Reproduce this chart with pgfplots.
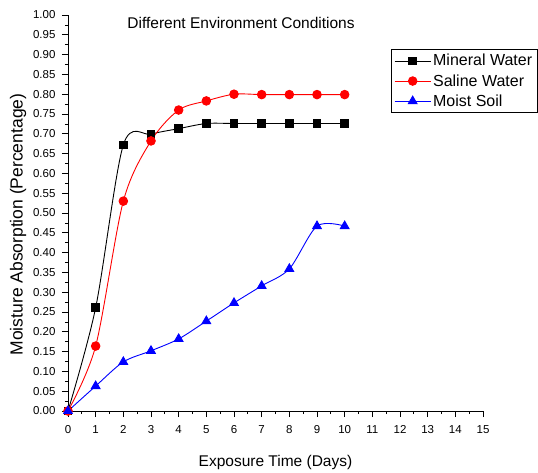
\documentclass[border=0pt]{standalone}
\usepackage{fontspec}
\setmainfont{Liberation Sans}
\usepackage{pgfplots}
\pgfplotsset{compat=1.18}
\begin{document}
\begin{tikzpicture}
\begin{axis}[
  scale only axis,
  width=415pt, height=396pt,
  xmin=0, xmax=15, ymin=0, ymax=1,
  axis x line*=bottom, axis y line*=left,
  axis line style={-, line width=0.9pt},
  xtick={0,1,...,15},
  ytick={0,0.05,...,1.0},
  minor x tick num=1, minor y tick num=1,
  tick align=outside,
  major tick length=6pt, minor tick length=3pt,
  tick style={black, line width=0.7pt},
  /pgf/number format/assume math mode=true,
  yticklabel style={/pgf/number format/fixed, /pgf/number format/fixed zerofill, /pgf/number format/precision=2, xshift=-3pt},
  xticklabel style={yshift=-5pt},
  ticklabel style={font=\fontsize{11.5}{13}\selectfont},
  xlabel={Exposure Time (Days)},
  ylabel={Moisture Absorption (Percentage)},
  xlabel style={font=\fontsize{15.5}{17}\selectfont, at={(axis description cs:0.5,0)}, anchor=base, yshift=-55pt},
  ylabel style={font=\fontsize{17.5}{19}\selectfont, at={(axis description cs:-0.1205,0.471)}, anchor=center, rotate=0},
  legend style={at={(rel axis cs:0.778,0.914)}, anchor=north west, draw=black, line width=0.7pt,
    font=\fontsize{16}{18}\selectfont, row sep=3pt, inner sep=3pt, cells={anchor=west}},
  legend image code/.code={\draw[mark repeat=2, mark phase=2, line width=0.9pt] plot coordinates {(0pt,0pt) (18pt,0pt) (36pt,0pt)};},
  clip=false,
]
\addplot[black, line width=0.9pt, smooth, mark=square*, mark size=3.8pt, mark options={solid, fill=black}]
  coordinates {(0,0) (1,0.261) (2,0.672) (3,0.699) (4,0.713) (5,0.726) (6,0.726) (7,0.726) (8,0.726) (9,0.726) (10,0.726)};
\addlegendentry{Mineral Water}
\addplot[red, line width=0.9pt, smooth, mark=*, mark size=4.3pt, mark options={solid, fill=red}]
  coordinates {(0,0) (1,0.164) (2,0.530) (3,0.682) (4,0.760) (5,0.783) (6,0.800) (7,0.799) (8,0.799) (9,0.799) (10,0.799)};
\addlegendentry{Saline Water}
\addplot[blue, line width=0.9pt, smooth, mark=triangle*, mark size=5pt, mark options={solid, fill=blue}]
  coordinates {(0,0) (1,0.063) (2,0.124) (3,0.152) (4,0.182) (5,0.227) (6,0.273) (7,0.316) (8,0.359) (9,0.467) (10,0.467)};
\addlegendentry{Moist Soil}
\node[font=\fontsize{15.5}{17}\selectfont] at (rel axis cs:0.417,0.98) {Different Environment Conditions};
\end{axis}
\pgfresetboundingbox
\path[use as bounding box] ([xshift=-68pt,yshift=-61pt]current axis.south west) rectangle ++(538pt,472pt);
\end{tikzpicture}
\end{document}
